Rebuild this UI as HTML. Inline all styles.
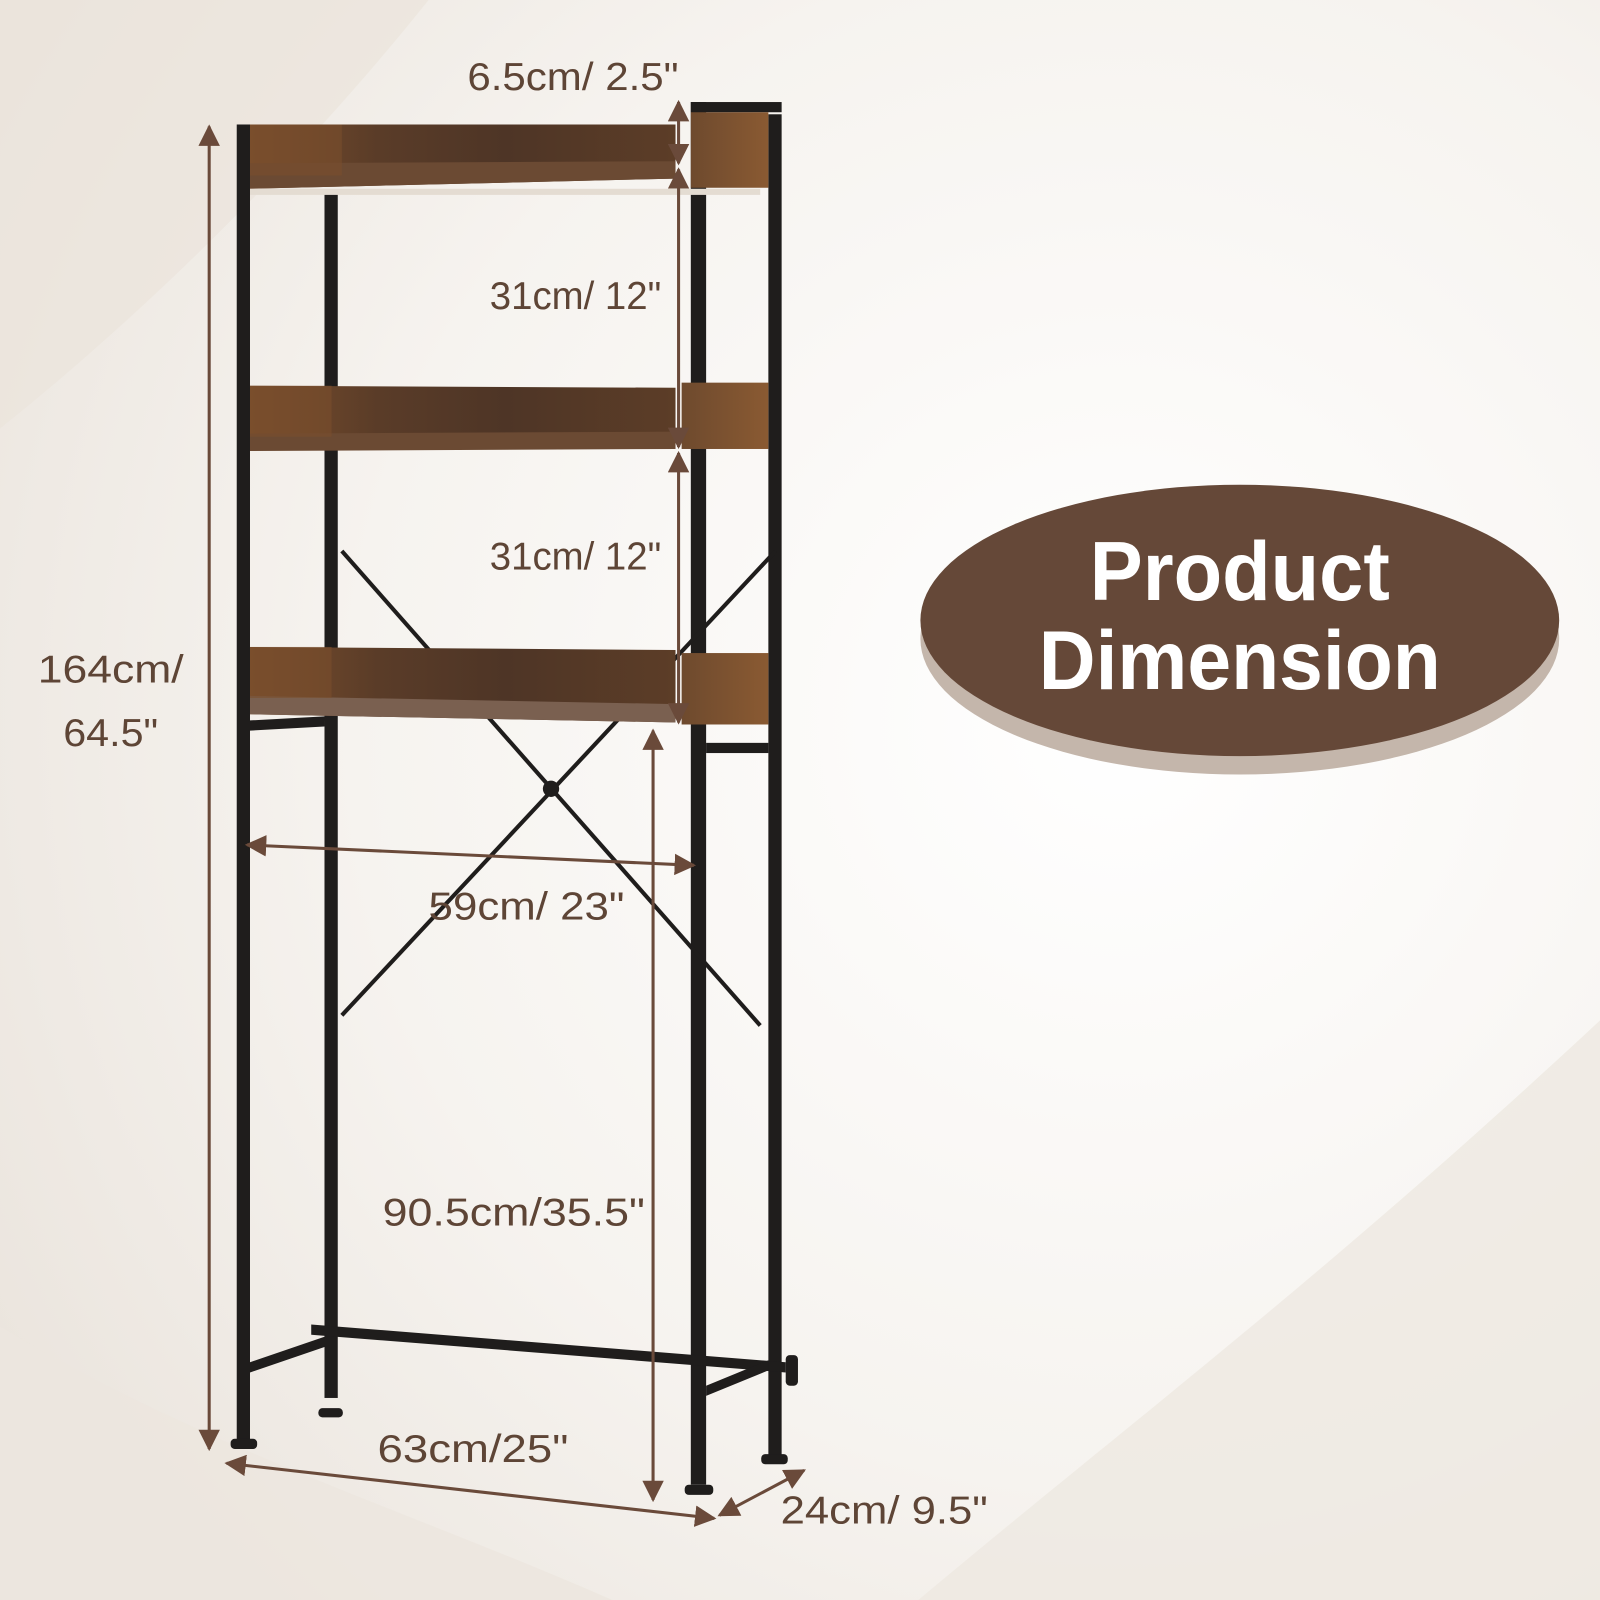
<!DOCTYPE html>
<html><head><meta charset="utf-8"><style>
html,body{margin:0;padding:0;width:1600px;height:1600px;overflow:hidden;background:#f4f1ed}
svg{display:block}
.d{font-family:"Liberation Sans",sans-serif;font-size:38px;fill:#5e4536}
</style></head><body>
<svg width="1600" height="1600" viewBox="0 0 1568 1568" xmlns="http://www.w3.org/2000/svg">
<defs>
<radialGradient id="bg" cx="0.7" cy="0.45" r="0.8">
<stop offset="0" stop-color="#ffffff"/><stop offset="0.6" stop-color="#f6f3ef"/><stop offset="1" stop-color="#ebe5de"/>
</radialGradient>
<linearGradient id="wood" x1="0" y1="0" x2="1" y2="0">
<stop offset="0" stop-color="#7a4e2c"/><stop offset="0.3" stop-color="#5a3c28"/><stop offset="0.6" stop-color="#4e3526"/><stop offset="1" stop-color="#5c3d27"/>
</linearGradient>
<linearGradient id="wood2" x1="0" y1="0" x2="1" y2="0">
<stop offset="0" stop-color="#6e4a2e"/><stop offset="1" stop-color="#8a5a32"/>
</linearGradient>
<marker id="ar" viewBox="0 0 10 10" refX="9" refY="5" markerWidth="7" markerHeight="7" orient="auto-start-reverse">
<path d="M0,0 L10,5 L0,10 z" fill="#6a4a3a"/></marker>
</defs>
<rect width="1568" height="1568" fill="url(#bg)"/>
<path d="M0,0 L420,0 C300,150 150,300 0,420 z" fill="#ebe4dc" opacity="0.7"/>
<path d="M1568,1000 C1300,1250 1100,1400 900,1568 L1568,1568 z" fill="#eee8e1" opacity="0.8"/>
<path d="M0,1300 C200,1420 400,1480 600,1568 L0,1568 z" fill="#ece6df" opacity="0.8"/>

<g fill="#1f1d1c">
<rect x="318" y="190" width="13" height="1180"/>
<rect x="753" y="112" width="13" height="1315"/>
<rect x="232" y="122" width="13" height="1290"/>
<rect x="677" y="100" width="15" height="1355"/>
<rect x="677" y="100" width="89" height="10"/>
<polygon points="245,706 318,702 318,712 245,716"/>
<rect x="692" y="728" width="61" height="10"/>
<polygon points="305,1298 770,1335 770,1345 305,1308"/>
<polygon points="245,1335 318,1310 318,1320 245,1345"/>
<polygon points="692,1358 753,1333 753,1343 692,1368"/>
<rect x="226" y="1410" width="26" height="10" rx="4"/>
<rect x="312" y="1380" width="24" height="9" rx="4"/>
<rect x="671" y="1455" width="28" height="10" rx="4"/>
<rect x="746" y="1425" width="26" height="10" rx="4"/>
<rect x="770" y="1328" width="12" height="30" rx="4"/>
</g>
<g stroke="#1f1d1c" stroke-width="4">
<line x1="335" y1="540" x2="745" y2="1005"/>
<line x1="335" y1="995" x2="760" y2="540"/>
</g>
<circle cx="540" cy="773" r="8" fill="#1f1d1c"/>

<g>
<rect x="677" y="110" width="76" height="74" fill="url(#wood2)"/>
<polygon points="245,122 662,122 662,175 245,185" fill="url(#wood)"/>
<polygon points="245,160 662,158 662,175 245,185" fill="#6b4a33"/>
<rect x="245" y="122" width="90" height="50" fill="#7a4f2d" opacity="0.6"/>
<rect x="245" y="185" width="500" height="6" fill="#e4dcd2"/>

<rect x="668" y="375" width="85" height="65" fill="url(#wood2)"/>
<polygon points="245,378 662,380 662,440 245,440" fill="url(#wood)"/>
<polygon points="245,425 662,423 662,440 245,442" fill="#6b4a33"/>
<rect x="245" y="378" width="80" height="50" fill="#7a4f2d" opacity="0.6"/>

<rect x="668" y="640" width="85" height="70" fill="url(#wood2)"/>
<polygon points="245,634 662,637 662,708 245,700" fill="url(#wood)"/>
<polygon points="245,682 662,690 662,708 245,700" fill="#7a6050"/>
<rect x="245" y="634" width="80" height="50" fill="#7a4f2d" opacity="0.6"/>
</g>

<g stroke="#6a4a3a" stroke-width="3" fill="none" marker-start="url(#ar)" marker-end="url(#ar)">
<line x1="205" y1="124" x2="205" y2="1420"/>
<line x1="665" y1="100" x2="665" y2="160"/>
<line x1="665" y1="166" x2="665" y2="438"/>
<line x1="665" y1="444" x2="665" y2="708"/>
<line x1="242" y1="828" x2="680" y2="848"/>
<line x1="640" y1="716" x2="640" y2="1470"/>
<line x1="222" y1="1434" x2="700" y2="1488"/>
<line x1="705" y1="1485" x2="788" y2="1441"/>
</g>

<g class="d" lengthAdjust="spacingAndGlyphs">
<text x="458" y="88" textLength="207" lengthAdjust="spacingAndGlyphs">6.5cm/ 2.5"</text>
<text x="480" y="303" textLength="168" lengthAdjust="spacingAndGlyphs">31cm/ 12"</text>
<text x="480" y="558" textLength="168" lengthAdjust="spacingAndGlyphs">31cm/ 12"</text>
<text x="37" y="669" textLength="143" lengthAdjust="spacingAndGlyphs">164cm/</text>
<text x="62" y="731" textLength="93" lengthAdjust="spacingAndGlyphs">64.5"</text>
<text x="420" y="901" textLength="192" lengthAdjust="spacingAndGlyphs">59cm/ 23"</text>
<text x="375" y="1201" textLength="257" lengthAdjust="spacingAndGlyphs">90.5cm/35.5"</text>
<text x="370" y="1433" textLength="187" lengthAdjust="spacingAndGlyphs">63cm/25"</text>
<text x="765" y="1493" textLength="203" lengthAdjust="spacingAndGlyphs">24cm/ 9.5"</text>
</g>

<ellipse cx="1215" cy="626" rx="313" ry="133" fill="#c4b6ab"/>
<ellipse cx="1215" cy="608" rx="313" ry="133" fill="#654838"/>
<g font-family="'Liberation Sans',sans-serif" font-weight="bold" font-size="82" fill="#fff" text-anchor="middle">
<text x="1215" y="588" textLength="294" lengthAdjust="spacingAndGlyphs">Product</text>
<text x="1215" y="675" textLength="394" lengthAdjust="spacingAndGlyphs">Dimension</text>
</g>
</svg>
</body></html>
